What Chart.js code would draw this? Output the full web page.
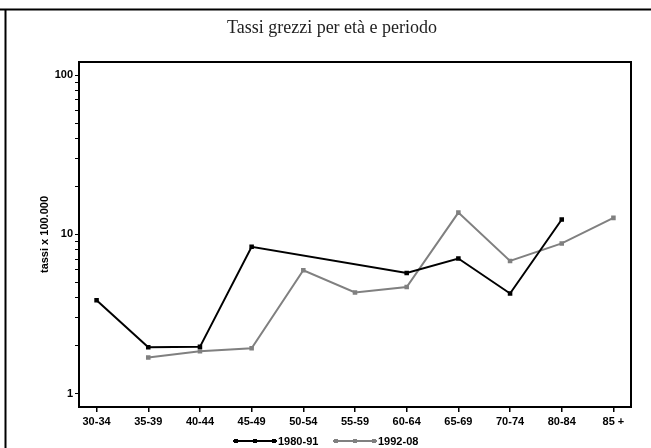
<!DOCTYPE html>
<html>
    <head>
        <title>Tassi grezzi per età e periodo</title>
        <style>
            body
            {
                margin: 0;
                background: #ffffff;
            }

            #chartWrapper
            {
                width: 651px;
                height: 448px;
            }
        </style>
        <script src="https://cdn.jsdelivr.net/npm/chart.js"></script>
        <script>
            // classi di età
            const ageGroups = ["30-34", "35-39", "40-44", "45-49", "50-54", "55-59", "60-64", "65-69", "70-74", "80-84", "85 +"];
            // tassi x 100.000 (null = non disponibile)
            const rates1980 = [3.86, 1.96, 1.97, 8.36, null, null, 5.73, 7.06, 4.26, 12.4, null];
            const rates1992 = [null, 1.69, 1.85, 1.93, 5.96, 4.32, 4.68, 13.7, 6.82, 8.78, 12.7];
            const yTicks = [1, 2, 3, 4, 5, 6, 7, 8, 9, 10, 20, 30, 40, 50, 60, 70, 80, 90, 100];
            const yLabelled = [1, 10, 100];

            const tickFont = {family: "Liberation Sans", size: 11, weight: "bold"};

            const toPoints = arr => arr
                .map((y, i) => ({x: i, y: y}))
                .filter(p => p.y !== null);

            // cornice, titolo e legenda disegnati sopra il grafico
            const framePlugin = {
                id: "frame",
                afterDraw(chart)
                {
                    const ctx = chart.ctx;
                    const a = chart.chartArea;
                    ctx.save();
                    ctx.strokeStyle = "#000";
                    ctx.lineWidth = 2;
                    ctx.beginPath();
                    ctx.moveTo(0, 9.5);
                    ctx.lineTo(651, 9.5);
                    ctx.moveTo(5.5, 9.5);
                    ctx.lineTo(5.5, 448);
                    ctx.stroke();
                    ctx.strokeRect(a.left, a.top, a.right - a.left, a.bottom - a.top);

                    ctx.fillStyle = "#222";
                    ctx.font = "18px 'Liberation Serif'";
                    ctx.textAlign = "center";
                    ctx.textBaseline = "alphabetic";
                    ctx.fillText("Tassi grezzi per età e periodo", 332, 33);

                    const items = [
                        {x: 233, color: "#000000", text: "1980-91"},
                        {x: 333, color: "#808080", text: "1992-08"}
                    ];
                    const ly = 441;
                    ctx.font = "bold 11px 'Liberation Sans'";
                    ctx.textAlign = "left";
                    ctx.textBaseline = "middle";
                    items.forEach(it => {
                        ctx.strokeStyle = it.color;
                        ctx.fillStyle = it.color;
                        ctx.lineWidth = 2;
                        ctx.beginPath();
                        ctx.moveTo(it.x, ly);
                        ctx.lineTo(it.x + 44, ly);
                        ctx.stroke();
                        [3, 22, 41].forEach(dx => ctx.fillRect(it.x + dx - 2, ly - 2, 4, 4));
                        ctx.fillStyle = "#000";
                        ctx.fillText(it.text, it.x + 45, ly + 0.5);
                    });
                    ctx.restore();
                }
            };

            function init()
            {
                const chartHTML = document.getElementById("lineChart");
                new Chart(chartHTML, {
                    type: "line",
                    data: {
                        datasets: [{
                            label: "1980-91",
                            data: toPoints(rates1980),
                            borderColor: "#000000",
                            backgroundColor: "#000000",
                            borderWidth: 2,
                            pointStyle: "rect",
                            pointRadius: 1.8,
                            spanGaps: true
                        }, {
                            label: "1992-08",
                            data: toPoints(rates1992),
                            borderColor: "#808080",
                            backgroundColor: "#808080",
                            borderWidth: 2,
                            pointStyle: "rect",
                            pointRadius: 1.8,
                            spanGaps: true
                        }]
                    },
                    options: {
                        responsive: false,
                        animation: false,
                        layout: {padding: {top: 62, right: 20, left: 0, bottom: 0}},
                        plugins: {
                            legend: {display: false},
                            title: {display: false},
                            tooltip: {enabled: false}
                        },
                        scales: {
                            x: {
                                type: "linear",
                                min: -0.34,
                                max: 10.34,
                                afterBuildTicks: s => { s.ticks = ageGroups.map((_, i) => ({value: i})); },
                                afterFit: s => { s.height = 41; },
                                border: {display: false},
                                grid: {drawOnChartArea: false, tickLength: 5, color: "#000", lineWidth: 1.5},
                                ticks: {
                                    autoSkip: false,
                                    maxRotation: 0,
                                    padding: 3,
                                    color: "#000",
                                    font: tickFont,
                                    callback: v => ageGroups[v]
                                }
                            },
                            y: {
                                type: "logarithmic",
                                min: 0.826,
                                max: 120.8,
                                afterBuildTicks: s => { s.ticks = yTicks.map(v => ({value: v})); },
                                afterFit: s => { s.width = 79; },
                                border: {display: false},
                                grid: {drawOnChartArea: false, tickLength: 4, color: "#000", lineWidth: 1},
                                title: {
                                    display: true,
                                    text: "tassi x 100.000",
                                    color: "#000",
                                    font: tickFont,
                                    padding: {top: 38, bottom: 0}
                                },
                                ticks: {
                                    autoSkip: false,
                                    padding: 2,
                                    color: "#000",
                                    font: tickFont,
                                    callback: v => yLabelled.includes(v) ? String(v) : ""
                                }
                            }
                        }
                    },
                    plugins: [framePlugin]
                });
            }
        </script>
    </head>
    <body onload="init();">
        <div id="chartWrapper">
            <canvas id="lineChart" width="651" height="448"></canvas>
        </div>
    </body>
</html>
